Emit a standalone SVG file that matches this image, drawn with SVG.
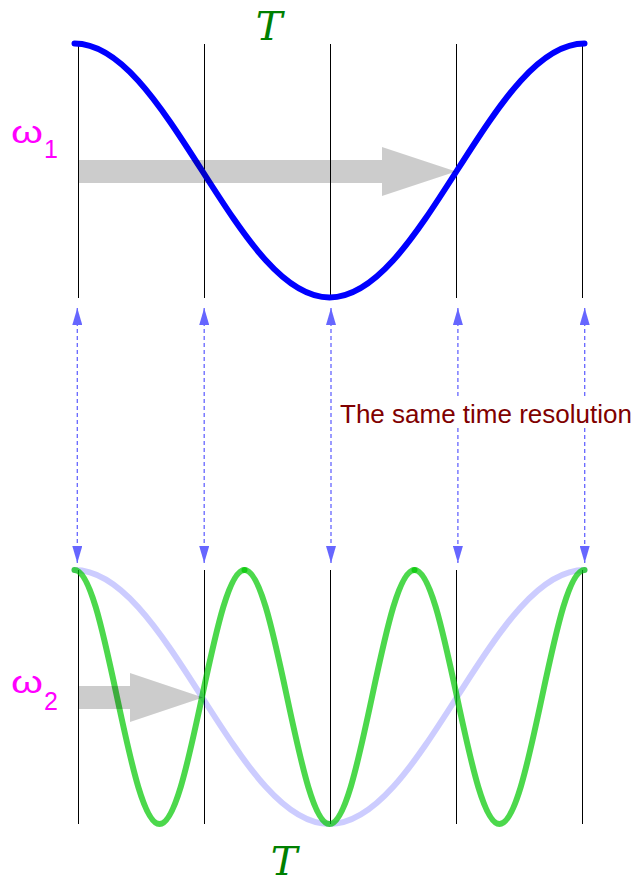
<svg xmlns="http://www.w3.org/2000/svg" xmlns:xlink="http://www.w3.org/1999/xlink" width="640" height="884" viewBox="0 0 640 884">
<style>
.vline{stroke:#000;stroke-width:1;fill:none}
.wave1{stroke:#0000ff;stroke-width:6;fill:none;stroke-linecap:round}
.ghost{stroke:#0000ff;stroke-opacity:0.2;stroke-width:6;fill:none;stroke-linecap:round}
.wave2{stroke:#00c800;stroke-opacity:0.7;stroke-width:6;fill:none;stroke-linecap:round}
.bigarrow{fill:#000;fill-opacity:0.2;stroke:none}
.dash{stroke:#6666ff;stroke-width:1.3;stroke-dasharray:4,3;fill:none}
.omega{font-family:"Liberation Sans",Arial,sans-serif;fill:#ff00ff}
.tee{font-family:"DejaVu Serif","Liberation Serif",serif;font-style:italic;fill:#008000;font-size:40px}
.note{font-family:"Liberation Sans",Arial,sans-serif;fill:#800000;font-size:26px}
</style>
<defs>
<marker id="ah" markerUnits="userSpaceOnUse" markerWidth="17" markerHeight="10" refX="17" refY="5" orient="auto-start-reverse" viewBox="0 0 17 10">
<path d="M0,0 L17,5 L0,10 z" fill="#6666ff"/>
</marker>
<path id="cos1" d="M74.5,43.5 C95.75,43.5 117,57.19 138.25,80.7 C159.5,104.21 180.75,137.25 202,170.5 C223.25,203.75 244.5,236.79 265.75,260.3 C287,283.81 308.25,297.5 329.5,297.5 C350.75,297.5 372,283.81 393.25,260.3 C414.5,236.79 435.75,203.75 457,170.5 C478.25,137.25 499.5,104.21 520.75,80.7 C542,57.19 563.25,43.5 584.5,43.5"/>
<path id="cos2" d="M74.5,570 c7.08,0 14.17,13.69 21.25,37.2 c7.08,23.51 14.17,56.55 21.25,89.8 c7.08,33.25 14.17,66.29 21.25,89.8 c7.08,23.51 14.17,37.2 21.25,37.2 c7.08,0 14.17,-13.69 21.25,-37.2 c7.08,-23.51 14.17,-56.55 21.25,-89.8 c7.08,-33.25 14.17,-66.29 21.25,-89.8 c7.08,-23.51 14.17,-37.2 21.25,-37.2"/>
</defs>
<rect width="640" height="884" fill="#fff"/>

<g id="grid-top">
<path class="vline" d="M78.5,44V298 M204.5,44V298 M330.5,44V298 M456.5,44V298 M582.5,44V298"/>
</g>
<g id="grid-bottom">
<path class="vline" d="M78.5,570V824 M204.5,570V824 M330.5,570V824 M456.5,570V824 M582.5,570V824"/>
</g>

<g id="wave-omega1">
<use xlink:href="#cos1" class="wave1"/>
</g>
<g id="wave-omega2">
<use xlink:href="#cos1" class="ghost" transform="translate(0,526.5)"/>
<use xlink:href="#cos2" class="wave2"/>
<use xlink:href="#cos2" class="wave2" transform="translate(170,0)"/>
<use xlink:href="#cos2" class="wave2" transform="translate(340,0)"/>
</g>

<g id="arrow-omega1">
<polygon class="bigarrow" points="78,160 382,160 382,147 456,171.5 382,196 382,183 78,183"/>
</g>
<g id="arrow-omega2">
<polygon class="bigarrow" points="78,686 130,686 130,673 203,697.5 130,722 130,709 78,709"/>
</g>

<rect x="338" y="397" width="302" height="31" fill="#fff"/>

<g id="connectors">
<line class="dash" x1="77.3" y1="308" x2="77.3" y2="563" marker-start="url(#ah)" marker-end="url(#ah)"/>
<line class="dash" x1="204.2" y1="308" x2="204.2" y2="563" marker-start="url(#ah)" marker-end="url(#ah)"/>
<line class="dash" x1="331" y1="308" x2="331" y2="563" marker-start="url(#ah)" marker-end="url(#ah)"/>
<line class="dash" x1="457.9" y1="308" x2="457.9" y2="397" marker-start="url(#ah)"/>
<line class="dash" x1="457.9" y1="428" x2="457.9" y2="563" marker-end="url(#ah)"/>
<line class="dash" x1="584.7" y1="308" x2="584.7" y2="397" marker-start="url(#ah)"/>
<line class="dash" x1="584.7" y1="428" x2="584.7" y2="563" marker-end="url(#ah)"/>
</g>

<g id="label-omega1">
<text class="omega" x="11" y="143" font-size="32" textLength="32" lengthAdjust="spacingAndGlyphs">ω</text>
<text class="omega" x="44" y="158" font-size="25">1</text>
</g>
<g id="label-omega2">
<text class="omega" x="11" y="693" font-size="32" textLength="32" lengthAdjust="spacingAndGlyphs">ω</text>
<text class="omega" x="44" y="710" font-size="25">2</text>
</g>
<g id="label-T-top">
<text class="tee" x="269" y="40" text-anchor="middle">T</text>
</g>
<g id="label-T-bottom">
<text class="tee" x="284" y="875" text-anchor="middle" font-size="38">T</text>
</g>
<g id="label-resolution">
<text class="note" x="340" y="423">The same time resolution</text>
</g>
</svg>
